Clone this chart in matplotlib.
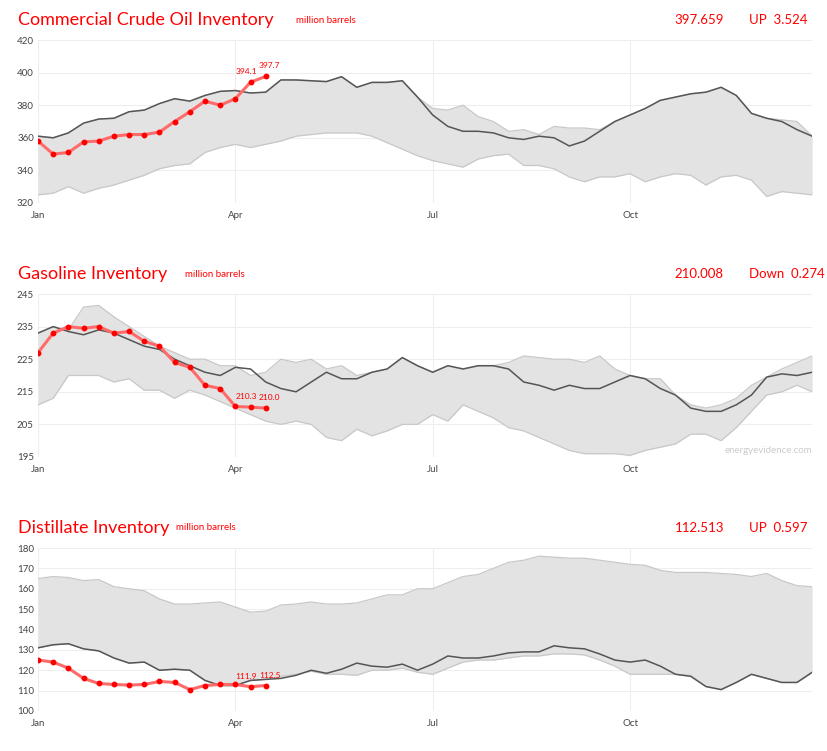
import matplotlib
matplotlib.use("Agg")
import matplotlib.pyplot as plt
import numpy as np

plt.rcParams['font.family'] = ['Lato', 'DejaVu Sans']

weeks = list(range(52))
tick_pos = [0, 13, 26, 39]
tick_labels = ["Jan", "Apr", "Jul", "Oct"]

crude_cur = [358, 350, 351, 357.5, 358, 361, 362, 362, 363.5, 370, 376, 382.5, 380, 384, 394.1, 397.7]
crude_avg = [361, 360, 363, 369, 371.5, 372, 376, 377, 381, 384, 382.5, 386, 388.5, 389, 387.5, 388,
             395.5, 395.5, 395, 394.5, 397.5, 391, 394, 394, 395, 385, 374, 367, 364, 364, 363, 360,
             359, 361, 360, 355, 358, 364, 370, 374, 378, 383, 385, 387, 388, 391, 386, 375, 372, 370, 365, 361]
crude_hi = [361, 360, 363, 369, 371.5, 372, 376, 377, 381, 384, 382.5, 386, 388.5, 389, 387.5, 388,
            395.5, 395.5, 395, 394.5, 397.5, 391, 394, 394, 395, 385, 378, 377, 380, 373, 370, 364,
            365, 362, 367, 366, 366, 365, 370, 374, 378, 383, 385, 387, 388, 391, 386, 375, 372, 371, 370, 361]
crude_lo = [325, 326, 330, 326, 329, 331, 334, 337, 341, 343, 344, 351, 354, 356, 354, 356,
            358, 361, 362, 363, 363, 363, 361, 357, 353, 349, 346, 344, 342, 347, 349, 350,
            343, 343, 341, 336, 333, 336, 336, 338, 333, 336, 338, 337, 331, 336, 337, 334, 324, 327, 326, 325]

gas_cur = [227, 233, 235, 234.5, 235, 233, 233.5, 230.5, 229, 224, 222.5, 217, 216, 210.5, 210.3, 210.0]
gas_avg = [233, 235, 233.5, 232.5, 234, 233, 231, 229, 228, 225, 223, 221, 220, 222.5, 222, 218,
           216, 215, 218, 221, 219, 219, 221, 222, 225.5, 223, 221, 223, 222, 223, 223, 222,
           218, 217, 215.5, 217, 216, 216, 218, 220, 219, 216, 214, 210, 209, 209, 211, 214, 219.5, 220.5, 220, 221]
gas_hi = [233, 235, 234, 241, 241.5, 238, 235, 232, 229, 227, 225, 225, 223, 223, 220, 221,
          225, 224, 225, 222, 223, 220, 221, 222, 225.5, 223, 221, 223, 222, 223, 223, 224,
          226, 225.5, 225, 225, 224, 226, 222, 220, 219, 219, 214, 211, 210, 211, 213, 217, 219.5, 222, 224, 226]
gas_lo = [211, 213, 220, 220, 220, 218, 219, 215.5, 215.5, 213, 215.5, 214, 212, 210, 208, 206,
          205, 206, 205, 201, 200, 203.5, 201.5, 203, 205, 205, 208, 206, 211, 209, 207, 204,
          203, 201, 199, 197, 196, 196, 196, 195.5, 197, 198, 199, 202, 202, 200, 204, 209, 214, 215, 217, 215]

dist_cur = [125, 124, 121, 116, 113.5, 113, 112.7, 113, 114.5, 114, 110.5, 112.5, 113, 113, 111.9, 112.5]
dist_avg = [131, 132.5, 133, 130.5, 129.5, 126, 123.5, 124, 120, 120.5, 120, 115, 112.5, 112.5, 115, 115.5,
            116, 117.5, 120, 118.5, 120.5, 123.5, 122, 121.5, 123, 120, 123, 127, 126, 126, 127, 128.5,
            129, 129, 132, 131, 130.5, 128, 125, 124, 125, 122, 118, 117, 112, 110.5, 114, 118, 116, 114, 114, 119]
dist_hi = [165, 166, 165.5, 164, 164.5, 161, 160, 159, 155, 152.5, 152.5, 153, 153.5, 151, 148.5, 149,
           152, 152.5, 153.5, 152.5, 152.5, 153, 155, 157, 157, 160, 160, 163, 166, 167, 170, 173,
           174, 176, 175.5, 175, 175, 174, 173, 172, 171.5, 169, 168, 168, 168, 167.5, 167, 166, 167.5, 164, 161.5, 161]
dist_lo = [131, 132.5, 133, 130.5, 129.5, 126, 123.5, 124, 120, 120.5, 120, 115, 112.5, 112.5, 115, 115.5,
           117, 118, 119.5, 118, 118, 117.5, 120, 120, 121, 119, 118, 121, 124, 125, 125, 126,
           127, 127, 128, 128, 127.5, 125, 122, 118, 118, 118, 118, 117.5, 112, 110.5, 114, 118, 116, 114, 114, 119]

panels = [
    dict(title="Commercial Crude Oil Inventory", cur=crude_cur, avg=crude_avg, hi=crude_hi, lo=crude_lo,
         ylim=(320, 420), yt=range(320, 421, 20), val="397.659", chg="UP  3.524", fmt="{:.1f}"),
    dict(title="Gasoline Inventory", cur=gas_cur, avg=gas_avg, hi=gas_hi, lo=gas_lo,
         ylim=(195, 245), yt=range(195, 246, 10), val="210.008", chg="Down  0.274", fmt="{:.1f}"),
    dict(title="Distillate Inventory", cur=dist_cur, avg=dist_avg, hi=dist_hi, lo=dist_lo,
         ylim=(100, 180), yt=range(100, 181, 10), val="112.513", chg="UP  0.597", fmt="{:.1f}"),
]

fig = plt.figure(figsize=(8.28, 7.51), dpi=100)
bottoms = [0.7297, 0.3915, 0.0533]
title_y = [0.973, 0.635, 0.297]
red = "#ff0000"
for p, b, ty in zip(panels, bottoms, title_y):
    ax = fig.add_axes([0.0459, b, 0.935, 0.217])
    x = np.array(weeks)
    ax.fill_between(x, p["lo"], p["hi"], color="#e3e3e3", lw=0)
    ax.plot(x, p["hi"], color="#c8c8c8", lw=0.9)
    ax.plot(x, p["lo"], color="#c8c8c8", lw=0.9)
    ax.plot(x, p["avg"], color="#555555", lw=1.1)
    xc = np.arange(len(p["cur"]))
    ax.plot(xc, p["cur"], color="#ff6b6b", lw=2.2, zorder=4)
    ax.plot(xc, p["cur"], 'o', color=red, ms=3.2, zorder=5)
    for i, dx in ((-2, -3), (-1, 3)):
        ax.annotate(p["fmt"].format(p["cur"][i]), (xc[i], p["cur"][i]), xytext=(dx, 5),
                    textcoords="offset points", ha="center", va="bottom", color=red, fontsize=6)
    ax.set_xlim(0, 51)
    ax.set_ylim(*p["ylim"])
    ax.set_yticks(list(p["yt"]))
    ax.set_xticks(tick_pos)
    ax.set_xticklabels(tick_labels)
    ax.grid(True, color="#eeeeee", lw=0.8)
    ax.set_axisbelow(True)
    for s in ax.spines.values():
        s.set_visible(False)
    ax.tick_params(length=0, labelsize=7, colors="#444444", pad=3)
    ax.tick_params(axis='x', pad=6)
    fig.text(0.022, ty, p["title"], color=red, fontsize=13, va="center")
    fig.text(0.815, ty, p["val"], color=red, fontsize=9.5, va="center")
    fig.text(0.905, ty, p["chg"], color=red, fontsize=9.5, va="center")
    if p["title"].startswith("Gasoline"):
        ax.text(1.0, 0.01, "energyevidence.com", transform=ax.transAxes, ha="right", va="bottom",
                color="#cccccc", fontsize=7)
for ty, xo in zip(title_y, [0.357, 0.223, 0.212]):
    fig.text(xo, ty, "million barrels", color=red, fontsize=7, va="center")
fig.savefig("out.png", dpi=100)
